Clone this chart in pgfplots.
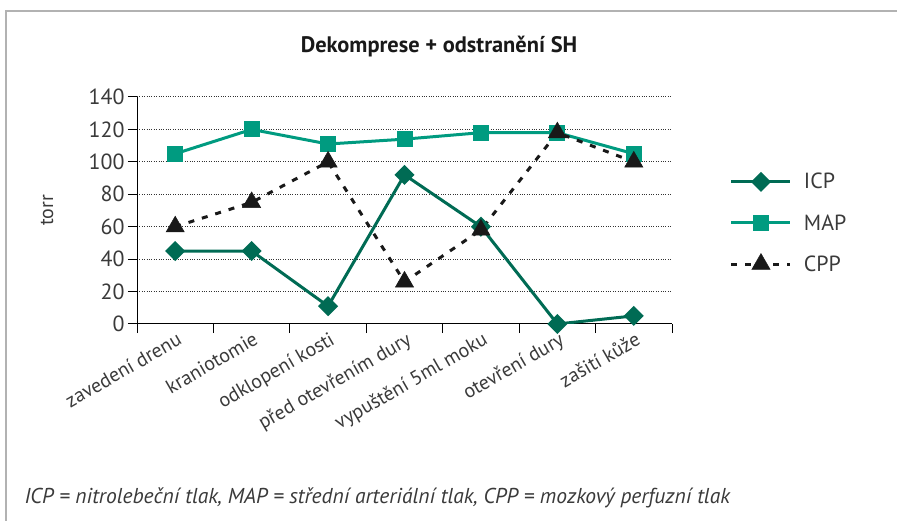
\documentclass[border=0pt]{standalone}
\usepackage{fontspec}
\setmainfont{PT Sans}
\usepackage{pgfplots}
\pgfplotsset{compat=1.18}
\definecolor{icp}{HTML}{006B54}
\definecolor{map}{HTML}{009B80}
\definecolor{txt}{HTML}{3A3A3A}
\begin{document}
\begin{tikzpicture}
\useasboundingbox (0,0) rectangle (897bp,521bp);
\draw[black!30, line width=2.5bp] (6bp,0) -- (6bp,510bp) -- (897bp,510bp);
\node[font=\bfseries\fontsize{22.5}{22.5}\selectfont, text=black!90] at (439bp,474bp) {Dekomprese + odstranění SH};
\node[anchor=base west, font=\itshape\fontsize{21.6}{21.6}\selectfont, text=txt] at (21bp,18bp) {ICP = nitrolebeční tlak, MAP = střední arteriální tlak, CPP = mozkový perfuzní tlak};
\begin{axis}[
  at={(137bp,197bp)}, anchor=south west,
  scale only axis, width=535bp, height=227bp,
  xmin=0.5, xmax=7.5, ymin=0, ymax=140,
  axis lines*=left,
  axis line style={black, line width=1bp},
  /pgf/number format/assume math mode=true,
  ytick={0,20,...,140},
  xtick={1,...,7},
  xticklabels={zavedení drenu, kraniotomie, odklopení kosti, před otevřením dury, vypuštění 5ml moku, otevření dury, zašití kůže},
  minor xtick={0.5,1.5,...,7.5},
  major x tick style={draw=none},
  tick style={black, line width=1bp},
  minor tick style={black, line width=1bp},
  tick align=outside,
  major tick length=9bp, minor tick length=9bp,
  ymajorgrids,
  grid style={black!80, dotted, line width=1bp},
  yticklabel style={font=\fontsize{22}{22}\selectfont, text=txt},
  xticklabel style={rotate=30, anchor=north east, xshift=5bp, yshift=5bp, font=\fontsize{20}{20}\selectfont, text=txt},
  ylabel={torr},
  ylabel style={at={(axis description cs:-0.168,0.5)}, anchor=center, font=\fontsize{20}{20}\selectfont, text=txt},
  legend style={at={(axis description cs:1.108,0.445)}, anchor=west, draw=none, fill=none,
    font=\fontsize{22}{22}\selectfont, text=txt, row sep=20bp, column sep=10bp, inner sep=0pt},
  legend cell align=left,
  legend image code/.code={\draw[mark repeat=2,mark phase=2] plot coordinates {(0bp,0bp) (29.5bp,0bp) (59bp,0bp)};},
]
\addplot[icp, line width=3bp, mark=square*, mark size=5.6bp, mark options={rotate=45, solid}]
  coordinates {(1,45) (2,45) (3,11) (4,92) (5,60) (6,0) (7,5)};
\addlegendentry{ICP}
\addplot[map, line width=3bp, mark=square*, mark size=6.5bp, mark options={solid}]
  coordinates {(1,105) (2,120) (3,111) (4,114) (5,118) (6,118) (7,105)};
\addlegendentry{MAP}
\addplot[black!90, line width=3bp, dash pattern=on 6bp off 8bp, mark=triangle*, mark size=10.5bp, mark options={solid, line width=0.5bp}]
  coordinates {(1,60) (2,75) (3,100) (4,26) (5,58) (6,118) (7,100)};
\addlegendentry{CPP}
\end{axis}
\end{tikzpicture}
\end{document}
